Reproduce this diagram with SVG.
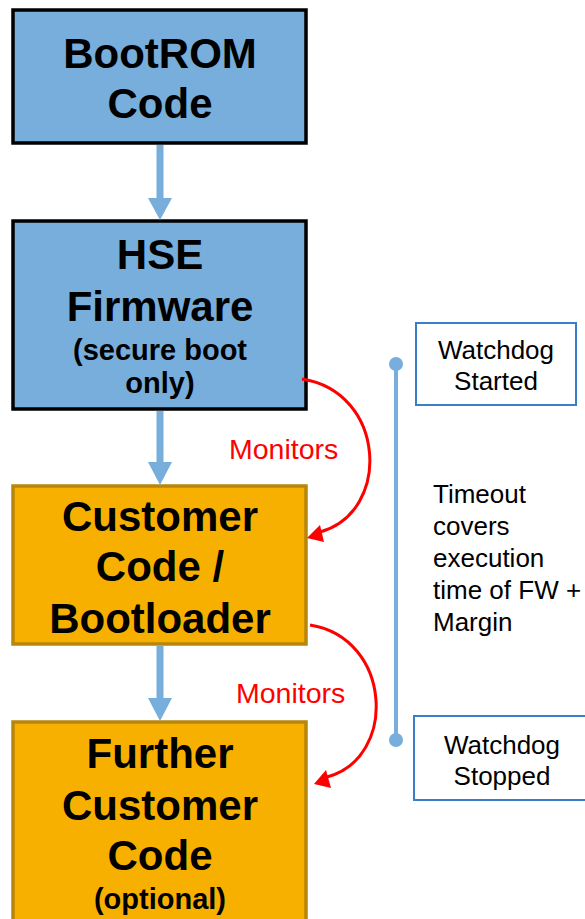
<svg xmlns="http://www.w3.org/2000/svg" width="585" height="919" viewBox="0 0 585 919">
  <style>
    .blue { fill: #77AEDB; stroke: #000; stroke-width: 3.5; }
    .orange { fill: #F8B000; stroke: #B8860B; stroke-width: 3.5; }
    .title { font-family: "Liberation Sans", Arial, sans-serif; font-weight: bold; font-size: 42px; fill: #000; text-anchor: middle; }
    .sub { font-family: "Liberation Sans", Arial, sans-serif; font-weight: bold; font-size: 29px; fill: #000; text-anchor: middle; }
    .mon { font-family: "Liberation Sans", Arial, sans-serif; font-size: 28.5px; fill: #FF0000; }
    .note { font-family: "Liberation Sans", Arial, sans-serif; font-size: 26px; fill: #000; }
    .wd { fill: #fff; stroke: #3A7DC9; stroke-width: 2; }
    .flow { stroke: #77AEDB; stroke-width: 7; fill: none; }
    .flowhead { fill: #77AEDB; }
    .curve { stroke: #FF0000; stroke-width: 3; fill: none; }
    .curvehead { fill: #FF0000; }
  </style>

  <g id="bootrom">
    <rect class="blue" x="13" y="10" width="293" height="133"/>
    <text class="title" x="160" y="68">BootROM</text>
    <text class="title" x="160" y="118">Code</text>
  </g>

  <g id="hse">
    <rect class="blue" x="13" y="221" width="293" height="188"/>
    <text class="title" x="160" y="269">HSE</text>
    <text class="title" x="160" y="321">Firmware</text>
    <text class="sub" x="160" y="360">(secure boot</text>
    <text class="sub" x="160" y="393">only)</text>
  </g>

  <g id="customer">
    <rect class="orange" x="13" y="486" width="293" height="158"/>
    <text class="title" x="160" y="531">Customer</text>
    <text class="title" x="160" y="581">Code /</text>
    <text class="title" x="160" y="633">Bootloader</text>
  </g>

  <g id="further">
    <rect class="orange" x="13" y="722" width="293" height="210"/>
    <text class="title" x="160" y="768">Further</text>
    <text class="title" x="160" y="820">Customer</text>
    <text class="title" x="160" y="870">Code</text>
    <text class="sub" x="160" y="909">(optional)</text>
  </g>

  <g id="wd-started">
    <rect class="wd" x="416" y="323" width="160" height="82"/>
    <text class="note" x="496" y="359" text-anchor="middle">Watchdog</text>
    <text class="note" x="496" y="390" text-anchor="middle">Started</text>
  </g>

  <g id="wd-stopped">
    <rect class="wd" x="414" y="716" width="172" height="84"/>
    <text class="note" x="502" y="754" text-anchor="middle">Watchdog</text>
    <text class="note" x="502" y="785" text-anchor="middle">Stopped</text>
  </g>

  <g id="timeout">
    <text class="note" x="433" y="503">Timeout</text>
    <text class="note" x="433" y="535">covers</text>
    <text class="note" x="433" y="567">execution</text>
    <text class="note" x="433" y="599">time of FW +</text>
    <text class="note" x="433" y="631">Margin</text>
  </g>

  <g id="connectors">
    <!-- boot flow arrows -->
    <line class="flow" x1="160" y1="145" x2="160" y2="200"/>
    <polygon class="flowhead" points="148,198 172,198 160,220"/>
    <line class="flow" x1="160" y1="411" x2="160" y2="464"/>
    <polygon class="flowhead" points="148,462 172,462 160,485"/>
    <line class="flow" x1="160" y1="646" x2="160" y2="700"/>
    <polygon class="flowhead" points="148,698 172,698 160,721"/>

    <!-- monitoring curves -->
    <path class="curve" d="M302,379 C386,392 392,512 320,532"/>
    <polygon class="curvehead" points="307,538 320,525 324,542"/>
    <text class="mon" x="229" y="459">Monitors</text>

    <path class="curve" d="M310,625 C392,638 398,758 327,777"/>
    <polygon class="curvehead" points="314,784 326,770 331,788"/>
    <text class="mon" x="236" y="703">Monitors</text>

    <!-- watchdog timeline -->
    <line x1="396" y1="364" x2="396" y2="740" stroke="#77AEDB" stroke-width="4"/>
    <circle cx="396" cy="364" r="7" fill="#77AEDB"/>
    <circle cx="396" cy="740" r="7" fill="#77AEDB"/>
  </g>
</svg>
